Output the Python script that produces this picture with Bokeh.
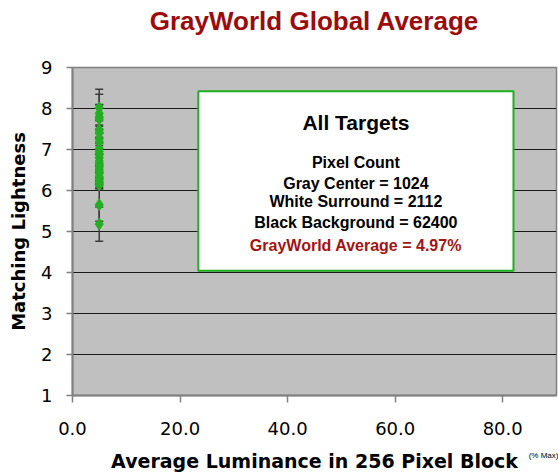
from bokeh.plotting import figure
from bokeh.models import (ColumnDataSource, Whisker, TeeHead, BoxAnnotation, Label,
                          FixedTicker, Range1d, LinearAxis)
from bokeh.embed import file_html
from bokeh.resources import INLINE

# ---- data ----
title_text = "GrayWorld Global Average"
gray_world_avg = 4.97
lightness = [8.02, 7.88, 7.80, 7.74, 7.48, 7.40, 7.25, 7.18, 7.02, 6.95, 6.88, 6.80,
             6.72, 6.65, 6.58, 6.50, 6.42, 6.35, 6.28, 6.20, 6.14, 5.65, 5.18]
errors = [0.45, 0.47, 0.30, 0.35, 0.30, 0.30, 0.35, 0.30, 0.40, 0.35, 0.40, 0.35,
          0.30, 0.35, 0.30, 0.30, 0.25, 0.20, 0.15, 0.12, 0.10, 0.40, 0.42]
luminance = [gray_world_avg] * len(lightness)
x_ticks = [0, 20, 40, 60, 80]
x_tick_labels = ["0.0", "20.0", "40.0", "60.0", "80.0"]
y_ticks = [1, 2, 3, 4, 5, 6, 7, 8, 9]
box_lines = ["All Targets", "Pixel Count", "Gray Center = 1024", "White Surround = 2112",
             "Black Background = 62400", "GrayWorld Average = 4.97%"]

src = ColumnDataSource(dict(
    x=luminance, y=lightness,
    upper=[v + e for v, e in zip(lightness, errors)],
    lower=[v - e for v, e in zip(lightness, errors)],
))

p = figure(width=558, height=474, x_range=Range1d(0, 90), y_range=Range1d(1, 9),
           output_backend="svg", toolbar_location=None,
           min_border_left=72, min_border_right=2, min_border_top=67, min_border_bottom=76)

xa = p.below[0]
ya = p.left[0]

p.background_fill_color = "#c0c0c0"
p.border_fill_color = "white"
p.outline_line_color = "#808080"
p.outline_line_width = 1.5

p.xgrid.visible = False
p.ygrid.grid_line_color = "#1a1a1a"
p.ygrid.grid_line_width = 1

for ax in (xa, ya):
    ax.axis_line_color = "#808080"
    ax.axis_line_width = 2
    ax.major_tick_line_color = "#808080"
    ax.major_tick_line_width = 1.5
    ax.major_tick_in = 0
    ax.minor_tick_line_color = None
    ax.major_label_text_font = "DejaVu Sans"
    ax.major_label_text_font_size = "18px"
    ax.major_label_text_color = "black"
    ax.axis_label_text_font = "DejaVu Sans"
    ax.axis_label_text_font_size = "18px"
    ax.axis_label_text_font_style = "bold"
    ax.axis_label_text_color = "black"

xa.ticker = FixedTicker(ticks=x_ticks)
xa.major_label_overrides = {t: l for t, l in zip(x_ticks, x_tick_labels)}
xa.major_tick_out = 7
xa.major_label_standoff = 19
xa.axis_label = "Average Luminance in 256 Pixel Block"
xa.axis_label_text_font_size = "19px"
xa.axis_label_standoff = 12

ya.ticker = FixedTicker(ticks=y_ticks)
ya.major_tick_out = 6
ya.major_label_standoff = 14
ya.axis_label = "Matching Lightness"
ya.axis_label_standoff = 9

# title drawn as a label above the plot area, centred on it
title_axis = LinearAxis(ticker=FixedTicker(ticks=[45]),
                        major_label_overrides={45: title_text},
                        axis_line_color=None, major_tick_line_color=None,
                        minor_tick_line_color=None, major_tick_out=0, major_tick_in=0,
                        major_label_standoff=32,
                        major_label_text_font="Liberation Sans",
                        major_label_text_font_style="bold",
                        major_label_text_font_size="26px",
                        major_label_text_color="#9c0b0b")
p.add_layout(title_axis, "above")

# small "(% Max)" note next to the x-axis title
sup_axis = LinearAxis(ticker=FixedTicker(ticks=[87.6]),
                      major_label_overrides={87.6: "(% Max)"},
                      axis_line_color=None, major_tick_line_color=None,
                      minor_tick_line_color=None, major_tick_out=0, major_tick_in=0,
                      major_label_standoff=-24,
                      major_label_text_font="Liberation Sans",
                      major_label_text_font_size="8px",
                      major_label_text_color="black")
p.add_layout(sup_axis, "below")

w = Whisker(source=src, base="x", upper="upper", lower="lower",
            line_color="#3c3c3c", line_width=1.5, level="underlay",
            upper_head=TeeHead(size=8, line_color="#3c3c3c", line_width=1.5),
            lower_head=TeeHead(size=8, line_color="#3c3c3c", line_width=1.5))
p.add_layout(w)

p.scatter("x", "y", source=src, marker="diamond", size=12,
          fill_color="#22b022", line_color="#22b022")

box = BoxAnnotation(left=23.4, right=82.0, bottom=4.04, top=8.42,
                    fill_color="white", fill_alpha=1.0,
                    line_color="#1fae1f", line_width=2, line_alpha=1.0)
p.add_layout(box)

cx = 52.7
ys = [7.66, 6.69, 6.18, 5.72, 5.23, 4.67]
sizes = ["21px", "16px", "16px", "16px", "16px", "16px"]
colors = ["black", "black", "black", "black", "black", "#a31313"]
for t, yy, s, c in zip(box_lines, ys, sizes, colors):
    p.add_layout(Label(x=cx, y=yy, text=t, text_align="center", text_baseline="middle",
                       text_font="Liberation Sans", text_font_style="bold",
                       text_font_size=s, text_color=c))

open("out.html", "w").write(file_html(p, INLINE))
